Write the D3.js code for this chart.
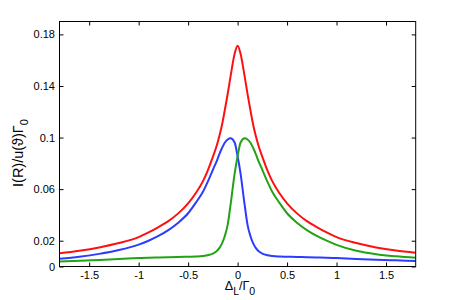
<!DOCTYPE html>
<html>
<head>
<meta charset="utf-8">
<script src="https://cdn.jsdelivr.net/npm/d3@7"></script>
<style>
  body { margin: 0; background: #fff; }
  svg { font-family: "Liberation Sans", Arial, sans-serif; }
</style>
</head>
<body>
<svg id="chart" width="459" height="300"></svg>
<script>
// detuning grid (x) and the three curves
const detuning = [-1.8, -1.6, -1.4, -1.2, -1.0, -0.9, -0.8, -0.7, -0.6, -0.5, -0.42, -0.35, -0.3, -0.25, -0.21, -0.185, -0.16, -0.13, -0.1, -0.07, -0.03,
                  0, 0.03, 0.07, 0.1, 0.13, 0.16, 0.185, 0.21, 0.25, 0.3, 0.35, 0.42, 0.5, 0.6, 0.7, 0.8, 0.9, 1.0, 1.2, 1.4, 1.6, 1.8]

const totalVals = [0.0102, 0.0122, 0.0148, 0.0182, 0.0228, 0.0264, 0.0306, 0.0352, 0.0412, 0.0490, 0.0572, 0.0662, 0.0748, 0.0850, 0.0940, 0.1010, 0.1090, 0.1210, 0.1340, 0.1480, 0.1650,
                   0.1712, 0.1650, 0.1480, 0.1340, 0.1210, 0.1090, 0.1010, 0.0940, 0.0850, 0.0748, 0.0662, 0.0572, 0.0490, 0.0412, 0.0352, 0.0306, 0.0264, 0.0228, 0.0182, 0.0148, 0.0124, 0.0107]

const blueVals = [0.0060, 0.0076, 0.0098, 0.0128, 0.0170, 0.0200, 0.0237, 0.0282, 0.0340, 0.0413, 0.0497, 0.0580, 0.0660, 0.0750, 0.0820, 0.0870, 0.0915, 0.0960, 0.0985, 0.0994, 0.0962,
                  0.0855, 0.0720, 0.0485, 0.0325, 0.0235, 0.0175, 0.0142, 0.0120, 0.0100, 0.0088, 0.0082, 0.0078, 0.0076, 0.0074, 0.0072, 0.0070, 0.0068, 0.0065, 0.0059, 0.0053, 0.0048, 0.0043]

const greenVals = [0.0038, 0.0044, 0.0051, 0.0058, 0.0065, 0.0068, 0.0070, 0.0072, 0.0074, 0.0076, 0.0078, 0.0082, 0.0088, 0.0100, 0.0120, 0.0142, 0.0175, 0.0235, 0.0325, 0.0485, 0.0720,
                   0.0855, 0.0962, 0.0994, 0.0985, 0.0960, 0.0915, 0.0870, 0.0820, 0.0750, 0.0660, 0.0580, 0.0497, 0.0413, 0.0340, 0.0282, 0.0237, 0.0200, 0.0168, 0.0122, 0.0095, 0.0079, 0.0068]

const xTicks = [-1.5, -1, -0.5, 0, 0.5, 1, 1.5]
const xTickLabels = ["-1.5", "-1", "-0.5", "0", "0.5", "1", "1.5"]
const yTicks = [0, 0.02, 0.06, 0.1, 0.14, 0.18]
const yTickLabels = ["0", "0.02", "0.06", "0.1", "0.14", "0.18"]

const m = ({t: 21.5, b: 33.5, l: 59.5, r: 43.3})
const W = 459, H = 300
const w = W - m.l - m.r
const h = H - m.t - m.b
const tickLen = 4
const font = "'Liberation Sans', Arial, sans-serif"

const svg = d3.select("#chart")

const xScale = d3.scaleLinear()
    .domain([-1.8, 1.8])
    .range([m.l, m.l + w])

const yScale = d3.scaleLinear()
    .domain([0, 0.19])
    .range([m.t + h, m.t])

svg.append("defs")
    .append("clipPath")
    .attr("id", "plot-clip")
    .append("rect")
    .attr("x", m.l)
    .attr("y", m.t)
    .attr("width", w)
    .attr("height", h)

const line = vals => d3.line()
    .x((d, i) => xScale(detuning[i]))
    .y(d => yScale(d))
    .curve(d3.curveMonotoneX)(vals)

const series = [
    {vals: blueVals, color: "#2b3cff"},
    {vals: greenVals, color: "#22a314"},
    {vals: totalVals, color: "#ff1010"}
]

svg.append("g")
    .attr("clip-path", "url(#plot-clip)")
    .selectAll("path")
    .data(series)
    .join("path")
    .attr("d", d => line(d.vals))
    .attr("fill", "none")
    .attr("stroke", d => d.color)
    .attr("stroke-width", 2)
    .attr("stroke-linejoin", "round")

// inward ticks on all four sides
const xAxisB = d3.axisBottom(xScale).tickValues(xTicks)
    .tickSizeInner(-tickLen).tickSizeOuter(0)
    .tickFormat((d, i) => xTickLabels[i]).tickPadding(5)

const xAxisT = d3.axisTop(xScale).tickValues(xTicks)
    .tickSizeInner(-tickLen).tickSizeOuter(0).tickFormat("")

const yAxisL = d3.axisLeft(yScale).tickValues(yTicks)
    .tickSizeInner(-tickLen).tickSizeOuter(0)
    .tickFormat((d, i) => yTickLabels[i]).tickPadding(4.5)

const yAxisR = d3.axisRight(yScale).tickValues(yTicks)
    .tickSizeInner(-tickLen).tickSizeOuter(0).tickFormat("")

const axes = [
    svg.append("g").attr("transform", `translate(0,${m.t + h})`).call(xAxisB),
    svg.append("g").attr("transform", `translate(0,${m.t})`).call(xAxisT),
    svg.append("g").attr("transform", `translate(${m.l},0)`).call(yAxisL),
    svg.append("g").attr("transform", `translate(${m.l + w},0)`).call(yAxisR)
]

axes.forEach(a => {
    a.select(".domain").remove()
    a.selectAll("line").attr("stroke", "#000")
    a.selectAll("text")
        .attr("fill", "#000")
        .style("font-size", "11px")
        .style("font-family", font)
})

svg.append("rect")
    .attr("x", m.l)
    .attr("y", m.t)
    .attr("width", w)
    .attr("height", h)
    .attr("fill", "none")
    .attr("stroke", "#000")
    .attr("stroke-width", 1)

// axis labels
const xLab = svg.append("text")
    .attr("x", 240)
    .attr("y", 290)
    .attr("text-anchor", "middle")
    .style("font-size", "12.5px")
xLab.append("tspan").text("Δ")
xLab.append("tspan").attr("dy", 5).style("font-size", "10.5px").text("L")
xLab.append("tspan").attr("dy", -5).text("/Γ")
xLab.append("tspan").attr("dy", 5).style("font-size", "10.5px").text("0")

const yLab = svg.append("text")
    .attr("transform", `translate(23.3,153) rotate(-90)`)
    .attr("text-anchor", "middle")
    .style("font-size", "14.5px")
yLab.append("tspan").text("I(R)/u(ϑ)Γ")
yLab.append("tspan").attr("dy", 4.5).style("font-size", "11px").text("0")
</script>
</body>
</html>
